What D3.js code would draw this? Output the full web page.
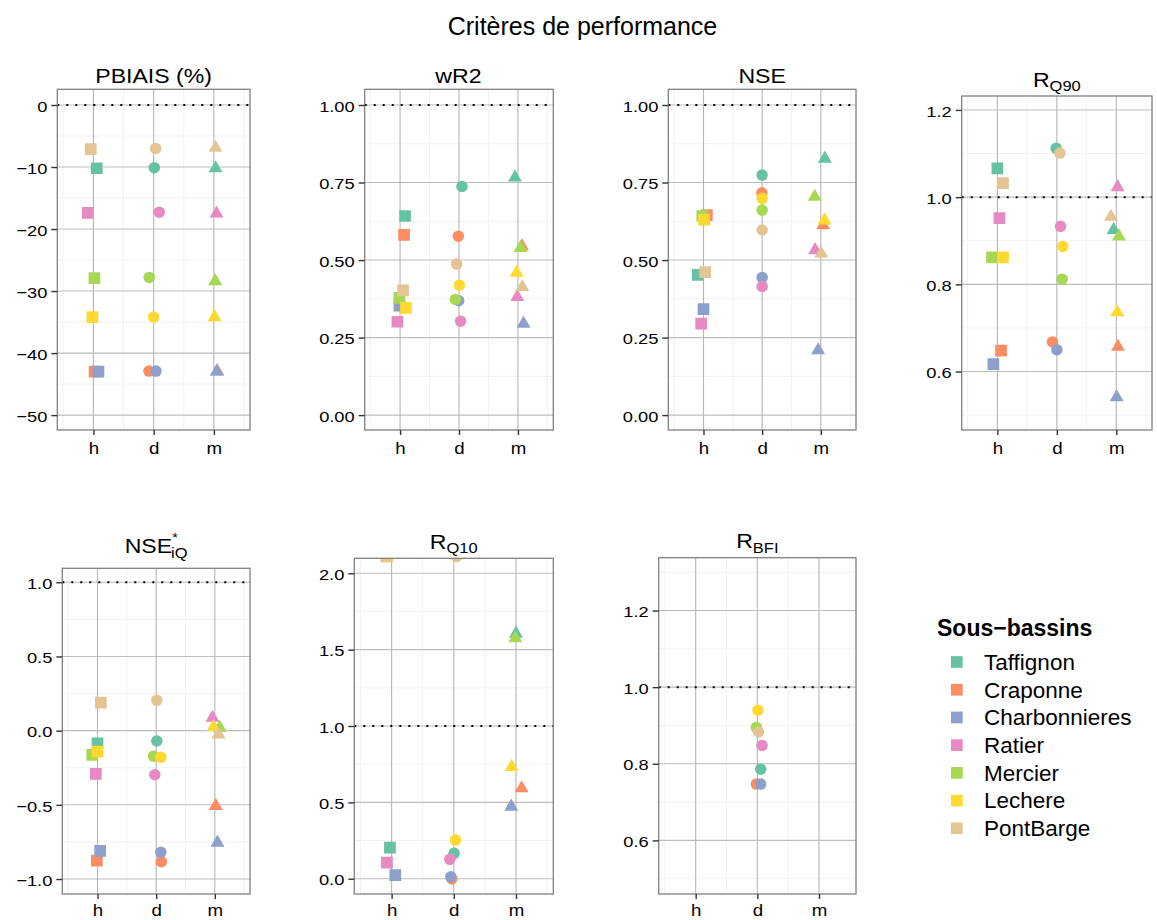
<!DOCTYPE html>
<html><head><meta charset="utf-8">
<script src="https://cdn.jsdelivr.net/npm/d3@7"></script>
<style>
body{margin:0;background:#fff}
text{font-family:"Liberation Sans",Arial,Helvetica,sans-serif;fill:#000}
</style>
</head><body>
<svg id="chart" width="1157" height="920"></svg>
<script>
// ---------- DATA ----------
const basins = ["Taffignon","Craponne","Charbonnieres","Ratier","Mercier","Lechere","PontBarge"];
const basinColors = ["#66C2A5","#FC8D62","#8DA0CB","#E78AC3","#A6D854","#FFD92F","#E5C494"];
const timeSteps = ["h","d","m"];
const mainTitle = "Critères de performance";
const legendTitle = "Sous\u2212bassins";

// values: one row per basin, columns = [h, d, m]
const PBIAIS = [[-10.2,-10.1,-10.2],[-43.0,-42.9,-42.9],[-43.0,-42.9,-43.0],[-17.4,-17.3,-17.5],[-27.9,-27.8,-28.4],[-34.2,-34.2,-34.2],[-7.1,-7.0,-6.9]];
const wR2 = [[0.642,0.737,0.766],[0.581,0.577,0.545],[0.353,0.369,0.295],[0.301,0.303,0.381],[0.378,0.373,0.539],[0.346,0.419,0.459],[0.402,0.487,0.413]];
const NSE = [[0.452,0.774,0.827],[0.645,0.717,0.612],[0.342,0.444,0.209],[0.295,0.415,0.532],[0.642,0.661,0.704],[0.630,0.699,0.628],[0.461,0.597,0.521]];
const RQ90 = [[1.066,1.112,0.925],[0.648,0.668,0.657],[0.617,0.650,0.541],[0.952,0.933,1.023],[0.862,0.812,0.910],[0.862,0.887,0.736],[1.032,1.101,0.955]];
const NSEiQ = [[-0.085,-0.070,null],[-0.876,-0.883,-0.507],[-0.811,-0.820,-0.755],[-0.292,-0.297,0.087],[-0.164,-0.173,0.020],[-0.142,-0.180,0.024],[0.189,0.204,-0.025]];
const RQ10 = [[0.203,0.166,1.605],[null,-0.002,0.592],[0.024,0.013,0.472],[0.105,0.127,null],[null,null,1.575],[2.11,0.253,0.732],[2.11,2.108,null]];
const RBFI = [[null,0.786,null],[null,0.747,null],[null,0.747,null],[null,0.848,null],[null,0.895,null],[null,0.940,null],[null,0.883,null]];

// horizontal jitter (category units), same layout
const jPBIAIS = [[0.055,0.011,0.028],[0.02,-0.078,0.055],[0.083,0.039,0.05],[-0.095,0.093,0.044],[0.017,-0.073,0.022],[-0.017,0,0.011],[-0.045,0.033,0.028]];
const jwR2 = [[0.085,0.051,-0.051],[0.068,-0.011,0.068],[-0.011,-0.006,0.096],[-0.045,0.028,-0.011],[-0.011,-0.062,0.045],[0.1,0.006,-0.023],[0.051,-0.04,0.074]];
const jNSE = [[-0.097,0,0.068],[0.057,-0.005,0.04],[0,0,-0.045],[-0.04,0,-0.097],[-0.02,0,-0.102],[0.011,0,0.063],[0.028,0,0.006]];
const jRQ90 = [[0,-0.011,-0.045],[0.062,-0.073,0.028],[-0.067,0,0.006],[0.034,0.062,0.022],[-0.09,0.09,0.045],[0.095,0.10,0.017],[0.095,0.05,-0.09]];
const jNSEiQ = [[0,0.011,0],[-0.011,0.09,0.017],[0.045,0.08,0.045],[-0.028,-0.023,-0.04],[-0.09,-0.045,0.085],[0,0.08,-0.023],[0.057,0.011,0.063]];
const jRQ10 = [[-0.027,0.005,0],[0,-0.032,0.09],[0.059,-0.048,-0.075],[-0.075,-0.064,0],[0,0,-0.01],[-0.07,0.027,-0.07],[-0.085,0.043,0]];
const jRBFI = [[0,0.054,0],[0,-0.016,0],[0,0.054,0],[0,0.076,0],[0,-0.016,0],[0,0.01,0],[0,0.02,0]];

// tick values
const ticksPBIAIS = [0,-10,-20,-30,-40,-50];
const ticksR2 = [0,0.25,0.5,0.75,1];
const ticksRQ90 = [0.6,0.8,1.0,1.2];
const ticksNSEiQ = [-1,-0.5,0,0.5,1];
const ticksRQ10 = [0,0.5,1,1.5,2];
const ticksRBFI = [0.6,0.8,1.0,1.2];

// ---------- LAYOUT ----------
const svg = d3.select("#chart");
const FONT = '"Liberation Sans",Arial,Helvetica,sans-serif';
const TICK_SX = 1.18, XLAB_SX = 1.1, TITLE_SX = 1.1;

const panels = [
  {vals:PBIAIS, jit:jPBIAIS, title:{main:"PBIAIS (%)"}, x0:57.3, x1:250, y0:89.3, y1:430, dom:[-52.4,2.53], ticks:ticksPBIAIS, fmt:d=>d3.format("d")(d).replace("-","\u2212"), ref:0, minor:5},
  {vals:wR2, jit:jwR2, title:{main:"wR2"}, x0:364.7, x1:553.3, y0:89.3, y1:430, dom:[-0.048,1.0506], ticks:ticksR2, fmt:d3.format(".2f"), ref:1, minor:0.125},
  {vals:NSE, jit:jNSE, title:{main:"NSE"}, x0:668.3, x1:856, y0:89.3, y1:430, dom:[-0.048,1.0506], ticks:ticksR2, fmt:d3.format(".2f"), ref:1, minor:0.125},
  {vals:RQ90, jit:jRQ90, title:{main:"R", sub:"Q90"}, x0:961.7, x1:1152, y0:96, y1:430, dom:[0.466,1.232], ticks:ticksRQ90, fmt:d3.format(".1f"), ref:1, minor:0.1},
  {vals:NSEiQ, jit:jNSEiQ, title:{main:"NSE", sub:"iQ", sup:"*"}, x0:62.3, x1:250, y0:568.3, y1:894, dom:[-1.101,1.094], ticks:ticksNSEiQ, fmt:d=>d3.format(".1f")(d).replace("-","\u2212"), ref:1, minor:0.25},
  {vals:RQ10, jit:jRQ10, title:{main:"R", sub:"Q10"}, x0:354.3, x1:553.3, y0:558.3, y1:894, dom:[-0.1,2.098], ticks:ticksRQ10, fmt:d3.format(".1f"), ref:1, minor:0.25},
  {vals:RBFI, jit:jRBFI, title:{main:"R", sub:"BFI"}, x0:658.7, x1:856, y0:557.7, y1:894, dom:[0.46,1.338], ticks:ticksRBFI, fmt:d3.format(".1f"), ref:1, minor:0.1}
];

const shapes = [d3.symbolSquare, d3.symbolCircle, d3.symbolTriangle];
const sizes = [137, 104, 85];

// main title
svg.append("text").attr("x",582.5).attr("y",35).attr("text-anchor","middle")
  .style("font-size","25px").text(mainTitle);

panels.forEach((p,pi)=>{
  const x = d3.scaleLinear().domain([0.4,3.6]).range([p.x0,p.x1]);
  const y = d3.scaleLinear().domain(p.dom).range([p.y1,p.y0]);
  const g = svg.append("g");
  const clipId = "clip"+pi;
  svg.append("clipPath").attr("id",clipId).append("rect")
    .attr("x",p.x0).attr("y",p.y0).attr("width",p.x1-p.x0).attr("height",p.y1-p.y0);

  g.append("rect").attr("x",p.x0).attr("y",p.y0).attr("width",p.x1-p.x0).attr("height",p.y1-p.y0).attr("fill","#fff");

  // minor grid
  const minorY = d3.range(Math.ceil(p.dom[0]/p.minor), Math.floor(p.dom[1]/p.minor)+1)
    .map(k=>+(k*p.minor).toFixed(6)).filter(v=>!p.ticks.some(t=>Math.abs(t-v)<1e-9));
  const gridG = g.append("g").attr("clip-path",`url(#${clipId})`);
  gridG.selectAll("line.minh").data(minorY).join("line")
    .attr("x1",p.x0).attr("x2",p.x1).attr("y1",d=>y(d)).attr("y2",d=>y(d))
    .attr("stroke","#f2f2f2").attr("stroke-width",1);
  gridG.selectAll("line.minv").data([0.5,1.5,2.5,3.5]).join("line")
    .attr("y1",p.y0).attr("y2",p.y1).attr("x1",d=>x(d)).attr("x2",d=>x(d))
    .attr("stroke","#f2f2f2").attr("stroke-width",1);
  // major grid
  gridG.selectAll("line.majh").data(p.ticks).join("line")
    .attr("x1",p.x0).attr("x2",p.x1).attr("y1",d=>y(d)).attr("y2",d=>y(d))
    .attr("stroke","#bdbdbd").attr("stroke-width",1.1);
  gridG.selectAll("line.majv").data([1,2,3]).join("line")
    .attr("y1",p.y0).attr("y2",p.y1).attr("x1",d=>x(d)).attr("x2",d=>x(d))
    .attr("stroke","#b5b5b5").attr("stroke-width",1.1);

  // reference dotted line
  g.append("line").attr("x1",p.x0).attr("x2",p.x1).attr("y1",y(p.ref)).attr("y2",y(p.ref))
    .attr("stroke","#000").attr("stroke-width",2).attr("stroke-dasharray","2,7")
    .attr("clip-path",`url(#${clipId})`);

  // points
  const pts = [];
  basins.forEach((b,bi)=>{
    timeSteps.forEach((t,ti)=>{
      const v = p.vals[bi][ti];
      if (v===null || v===undefined) return;
      pts.push({bi, ti, v, j:p.jit[bi][ti]});
    });
  });
  g.append("g").attr("clip-path",`url(#${clipId})`)
    .selectAll("path").data(pts).join("path")
    .attr("d",d=>d3.symbol(shapes[d.ti], sizes[d.ti])())
    .attr("transform",d=>`translate(${x(d.ti+1+d.j)},${y(d.v)})`)
    .attr("fill",d=>basinColors[d.bi]);

  // border
  g.append("rect").attr("x",p.x0).attr("y",p.y0).attr("width",p.x1-p.x0).attr("height",p.y1-p.y0)
    .attr("fill","none").attr("stroke","#808080").attr("stroke-width",1.3);

  // axes
  const ya = g.append("g").attr("transform",`translate(${p.x0},0)`)
    .call(d3.axisLeft(y).tickValues(p.ticks).tickFormat(p.fmt).tickSize(6).tickPadding(4).tickSizeOuter(0));
  ya.select(".domain").remove();
  ya.selectAll(".tick line").attr("stroke","#333").attr("stroke-width",1.4);
  ya.selectAll(".tick text").style("font-size","15.5px").style("font-family",FONT).attr("fill","#000")
    .attr("x",0).attr("dy","0.4em").attr("transform",`translate(-10,0) scale(${TICK_SX},1)`);

  const bottomRow = p.y1 > 800;
  const xa = g.append("g").attr("transform",`translate(0,${p.y1})`)
    .call(d3.axisBottom(x).tickValues([1,2,3]).tickFormat(d=>timeSteps[d-1]).tickSize(5).tickPadding(bottomRow?5:7).tickSizeOuter(0));
  xa.select(".domain").remove();
  xa.selectAll(".tick line").attr("stroke","#333").attr("stroke-width",1.4);
  xa.selectAll(".tick text").style("font-size","17px").style("font-family",FONT).attr("fill","#000")
    .attr("transform",`scale(${XLAB_SX},1)`);

  // title
  const cx = (p.x0+p.x1)/2;
  const tt = svg.append("text").attr("x",0).attr("y",0).style("font-size","21px");
  tt.append("tspan").text(p.title.main);
  if (p.title.sup) {
    tt.append("tspan").attr("dy",-11).style("font-size","13px").text(p.title.sup);
  }
  if (p.title.sub) {
    const subT = tt.append("tspan").style("font-size","15px").text(p.title.sub);
    if (p.title.sup) { subT.attr("dx",-6).attr("dy",16); } else { subT.attr("dy",4.5); }
  }
  const bb = tt.node().getBBox();
  const base = p.title.sub ? (p.title.sup ? p.y0-15 : p.y0-9.5) : p.y0-6;
  tt.attr("transform",`translate(${cx - bb.width*TITLE_SX/2},${base}) scale(${TITLE_SX},1)`);
});

// legend
const lg = svg.append("g");
lg.append("text").attr("x",937).attr("y",636).style("font-size","23px").style("font-weight","bold").text(legendTitle);
const ly = d3.scaleLinear().domain([0,6]).range([662,828.3]);
lg.selectAll("rect.key").data(basins).join("rect")
  .attr("x",951).attr("y",(d,i)=>ly(i)-5.85).attr("width",11.7).attr("height",11.7)
  .attr("fill",(d,i)=>basinColors[i]);
lg.selectAll("text.lab").data(basins).join("text")
  .attr("x",984).attr("y",(d,i)=>ly(i)+7.8).style("font-size","22.5px").text(d=>d);
</script>
</body></html>
